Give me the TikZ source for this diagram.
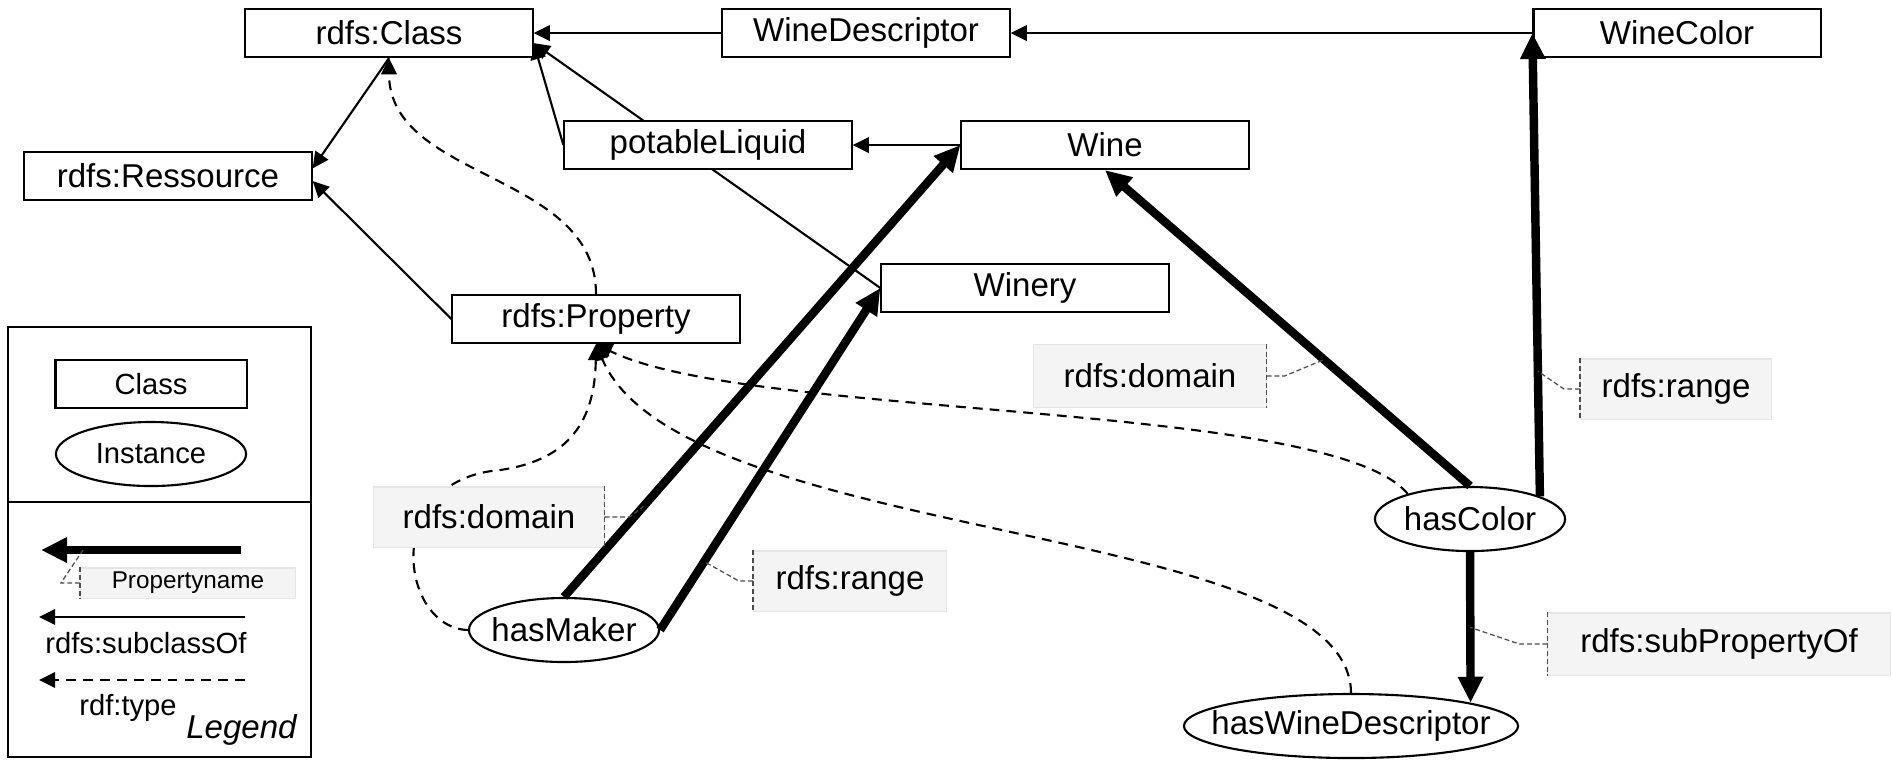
\documentclass[tikz,border=0pt]{standalone}
\usepackage{fontspec}
\setmainfont{Liberation Sans}
\usetikzlibrary{arrows.meta,shapes.geometric,backgrounds}

\begin{document}
\begin{tikzpicture}[x=0.01cm,y=-0.01cm,
    every node/.style={font=\fontsize{9.4}{11}\selectfont},
    legendtext/.style={font=\fontsize{8.3}{10}\selectfont},
    classbox/.style={draw,line width=0.6pt,fill=white,minimum width=2.87cm,minimum height=0.48cm,inner sep=0pt},
    instnode/.style={draw,ellipse,line width=0.6pt,fill=white,minimum width=1.9cm,minimum height=0.64cm,inner sep=0pt,inner xsep=-0.3cm},
    proplabel/.style={fill=gray!9,draw=gray!20,line width=0.3pt,minimum height=0.6cm,inner sep=0pt},
    proparrow/.style={line width=2.4pt,-{Triangle[length=7.4pt,width=6.8pt]}},
    subarrow/.style={line width=0.6pt,-{Triangle[length=4.6pt,width=4.4pt]}},
    typearrow/.style={line width=0.6pt,dash pattern=on 2.8pt off 2pt,-{Triangle[length=4.6pt,width=4.4pt]}},
    calloutline/.style={line width=0.35pt,gray!60!black,dash pattern=on 1.4pt off 0.8pt}]
  \useasboundingbox (0,0) rectangle (1892,759);

  % classes
  \node[classbox] (cls) at (389,33) {rdfs:Class};
  \node[classbox] (wdesc) at (866,33) {WineDescriptor};
  \node[classbox] (wcol) at (1677,33) {WineColor};
  \node[classbox] (res) at (168,176) {rdfs:Ressource};
  \node[classbox] (potl) at (708,145) {potableLiquid};
  \node[classbox] (wine) at (1105,145) {Wine};
  \node[classbox] (winery) at (1025,288) {Winery};
  \node[classbox] (rprop) at (596,319) {rdfs:Property};

  % instances
  \node[instnode] (maker) at (564,630) {hasMaker};
  \node[instnode] (color) at (1470,519) {hasColor};
  \node[instnode,minimum width=3.34cm] (wdprop) at (1351,726) {hasWineDescriptor};

  % property names
  \node[proplabel,minimum width=2.3cm] (dom1) at (489,517) {rdfs:domain};
  \node[proplabel,minimum width=1.93cm] (rng1) at (850,581) {rdfs:range};
  \node[proplabel,minimum width=2.32cm,minimum height=0.63cm] (dom2) at (1150,376) {rdfs:domain};
  \node[proplabel,minimum width=1.91cm] (rng2) at (1676,389) {rdfs:range};
  \node[proplabel,minimum width=3.42cm,minimum height=0.62cm] (subp) at (1719,644) {rdfs:subPropertyOf};

  \begin{pgfonlayer}{background}
    \draw[subarrow] (wdesc) -- (cls);
    \draw[subarrow] (wcol) -- (wdesc);
    \draw[subarrow] (potl.west) -- (cls.-4);
    \draw[subarrow] (winery.west) -- (cls.-4);
    \draw[subarrow] (wine) -- (potl);
    \draw[subarrow] (cls.south) -- (res.3);
    \draw[subarrow] (rprop.west) -- (res.-2);
    \draw[typearrow] (rprop.north) to[out=90,in=-90] (cls.south);
    \draw[typearrow] (maker.west) .. controls (400,628) and (380,480) .. (500,470)
      .. controls (570,460) and (595,420) .. (rprop.south);
    \draw[typearrow] (color.158) .. controls (1330,400) and (750,420) .. (rprop.south);
    \draw[typearrow] (wdprop.north) .. controls (1350,520) and (680,545) .. (rprop.south);
  \end{pgfonlayer}

  \draw[proparrow] (maker.north) -- coordinate[pos=0.2] (mkdom) (wine.west);
  \draw[proparrow] (maker.east) -- coordinate[pos=0.2] (mkrng) (winery.west);
  \draw[proparrow] (color.north) -- coordinate[pos=0.4] (coldom) (wine.south);
  \draw[proparrow] (color.18) -- coordinate[pos=0.27] (colrng) (wcol.west);
  \draw[proparrow] (color.south) -- coordinate[pos=0.5] (colsub) (wdprop.11);

  \draw[calloutline] (dom1.north east) -- (dom1.south east);
  \draw[calloutline] (dom1.east) -- ++(25,0) -- (mkdom);
  \draw[calloutline] (rng1.north west) -- (rng1.south west);
  \draw[calloutline] (rng1.west) -- ++(-14,0) -- (mkrng);
  \draw[calloutline] (dom2.north east) -- (dom2.south east);
  \draw[calloutline] (dom2.east) -- ++(18,0) -- (coldom);
  \draw[calloutline] (rng2.north west) -- (rng2.south west);
  \draw[calloutline] (rng2.west) -- ++(-16,0) -- (colrng);
  \draw[calloutline] (subp.north west) -- (subp.south west);
  \draw[calloutline] (subp.west) -- ++(-28,0) -- (colsub);

  % legend
  \draw[line width=0.6pt] (8,327) rectangle (311,757);
  \draw[line width=0.6pt] (8,502) -- (311,502);
  \node[classbox,legendtext,minimum width=1.91cm] (lgcls) at (151,384) {Class};
  \node[instnode,legendtext] (lgins) at (151,454) {Instance};
  \coordinate (lgpa) at (241,550);
  \coordinate (lgpb) at (41,550);
  \draw[proparrow] (lgpa) -- coordinate[pos=0.79] (lgpc) (lgpb);
  \node[proplabel,minimum width=2.15cm,minimum height=0.3cm,font=\fontsize{6.9}{8}\selectfont] (lgname) at (188,583) {Propertyname};
  \draw[calloutline] (lgname.north west) -- (lgname.south west);
  \draw[calloutline] (lgname.west) -- ++(-19,0) -- (lgpc);
  \coordinate (lgsa) at (245,617);
  \coordinate (lgsb) at (39,617);
  \draw[subarrow] (lgsa) -- (lgsb);
  \node[legendtext] (lgsub) at (146,643) {rdfs:subclassOf};
  \coordinate (lgta) at (245,680);
  \coordinate (lgtb) at (39,680);
  \draw[typearrow] (lgta) -- (lgtb);
  \node[legendtext] (lgtype) at (128,708) {rdf:type};
  \node[anchor=east,font=\fontsize{9.4}{11}\selectfont\itshape] (lgtitle) at (309,730) {Legend};
\end{tikzpicture}
\end{document}
